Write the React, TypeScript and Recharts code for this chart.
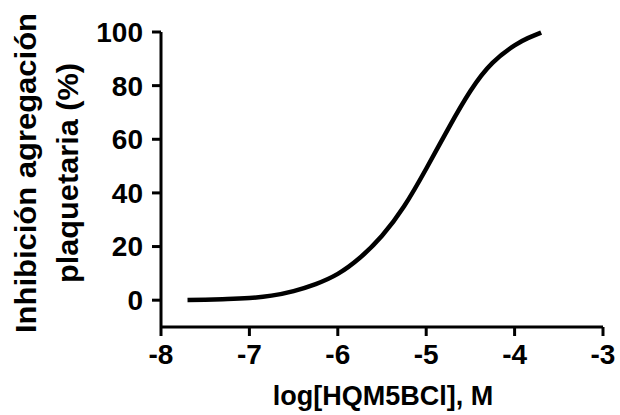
import React from 'react';
import { LineChart, Line, XAxis, YAxis } from 'recharts';

// log concentration (M)
const logConc = [-7.7, -7.5, -7.25, -7.0, -6.75, -6.5, -6.25, -6.0, -5.75, -5.5, -5.25, -5.0, -4.75, -4.5, -4.25, -4.0, -3.85, -3.7];
const inhibition = [0.1, 0.2, 0.4, 0.8, 1.7, 3.4, 6.0, 9.8, 15.8, 24, 35, 49, 64, 78, 88.5, 95, 97.7, 99.8];

const xTicks = [-8, -7, -6, -5, -4, -3];
const yTicks = [0, 20, 40, 60, 80, 100];

const yLabelLines = ['Inhibición agregación', 'plaquetaria (%)'];
const xLabel = 'log[HQM5BCl], M';

const data = logConc.map((x, i) => ({ x, y: inhibition[i] }));

const font = '"Liberation Sans", Arial, sans-serif';

const renderYLabel = () => (
  <g>
    <text
      transform="translate(36, 173) rotate(-90)"
      textAnchor="middle"
      fontFamily={font}
      fontWeight="bold"
      fontSize={30}
      textLength={320}
      lengthAdjust="spacingAndGlyphs"
      fill="#000"
    >
      {yLabelLines[0]}
    </text>
    <text
      transform="translate(78, 173) rotate(-90)"
      textAnchor="middle"
      fontFamily={font}
      fontWeight="bold"
      fontSize={29}
      textLength={220}
      lengthAdjust="spacingAndGlyphs"
      fill="#000"
    >
      {yLabelLines[1]}
    </text>
  </g>
);

const renderXLabel = () => (
  <text x={383} y={405} textAnchor="middle" fontFamily={font} fontWeight="bold" fontSize={27} fill="#000">
    {xLabel}
  </text>
);

export default function App() {
  return (
    <div style={{ position: 'absolute', left: 0, top: 0, background: '#fff' }}>
      <LineChart width={620} height={415} data={data} margin={{ top: 32, right: 17, bottom: 0, left: 0 }}>
        <XAxis
          dataKey="x"
          type="number"
          domain={[-8, -3]}
          ticks={xTicks}
          height={88}
          axisLine={{ stroke: '#000', strokeWidth: 3 }}
          tickLine={{ stroke: '#000', strokeWidth: 3 }}
          tickSize={9}
          tickMargin={8}
          tick={{ fill: '#000', fontSize: 28, fontWeight: 'bold', fontFamily: font }}
          label={renderXLabel}
        />
        <YAxis
          type="number"
          domain={[-10, 100]}
          ticks={yTicks}
          width={161}
          axisLine={{ stroke: '#000', strokeWidth: 3 }}
          tickLine={{ stroke: '#000', strokeWidth: 3 }}
          tickSize={9}
          tickMargin={9}
          tick={{ fill: '#000', fontSize: 28, fontWeight: 'bold', fontFamily: font }}
          label={renderYLabel}
        />
        <Line
          dataKey="y"
          type="natural"
          stroke="#000"
          strokeWidth={4.5}
          dot={false}
          isAnimationActive={false}
        />
      </LineChart>
    </div>
  );
}
